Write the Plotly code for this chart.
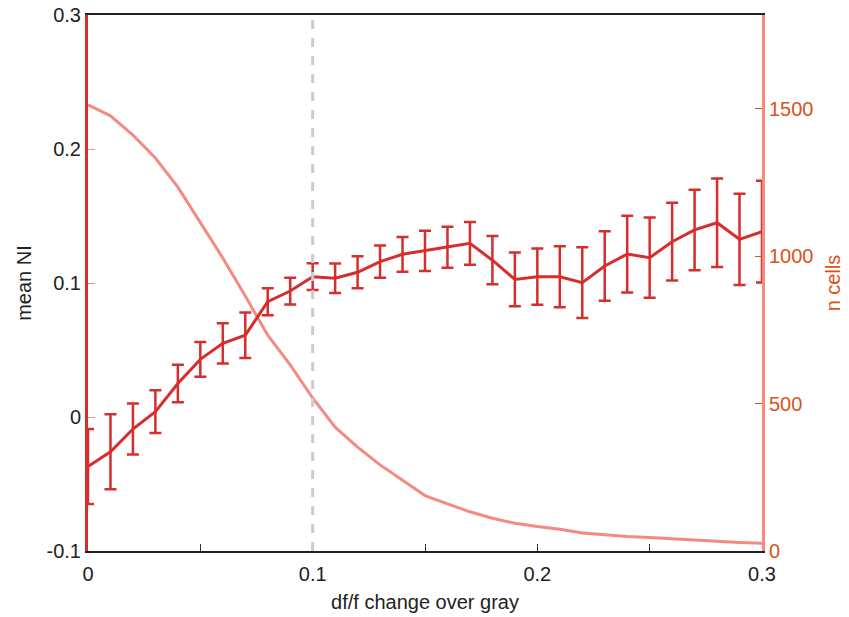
import plotly.graph_objects as go

x_vals = [round(i * 0.01, 2) for i in range(31)]
mean_ni = [-0.037, -0.026, -0.009, 0.004, 0.025, 0.043, 0.055, 0.061, 0.086, 0.094,
           0.1047, 0.1035, 0.108, 0.116, 0.1214, 0.124, 0.1266, 0.1296, 0.117, 0.1027,
           0.1047, 0.1047, 0.1002, 0.1127, 0.1216, 0.1189, 0.1308, 0.1396, 0.145, 0.1326, 0.1383]
err_ni = [0.028, 0.028, 0.019, 0.016, 0.014, 0.013, 0.015, 0.017, 0.010, 0.010,
          0.010, 0.011, 0.012, 0.012, 0.013, 0.015, 0.0153, 0.016, 0.018, 0.020,
          0.021, 0.0228, 0.0264, 0.026, 0.0286, 0.030, 0.029, 0.030, 0.033, 0.034, 0.038]
n_cells = [1513, 1476, 1411, 1333, 1234, 1116, 994, 865, 732, 631,
           519, 420, 352, 292, 240, 188, 160, 133, 111, 94,
           83, 74, 61, 55, 49, 46, 41, 37, 33, 29, 26]

RED = '#d62d2d'
PINK = '#f48a80'
ORANGE = '#d95319'
FONT = 'Liberation Sans, Arial, sans-serif'
FS = 20

fig = go.Figure()
fig.add_trace(go.Scatter(x=x_vals, y=n_cells, mode='lines', yaxis='y',
                         line=dict(color=PINK, width=3), showlegend=False))
fig.add_trace(go.Scatter(x=x_vals, y=mean_ni, mode='lines', yaxis='y2',
                         line=dict(color=RED, width=3),
                         error_y=dict(type='data', array=err_ni, color=RED,
                                      thickness=2.5, width=6),
                         showlegend=False))

fig.add_shape(type='line', x0=0.1, x1=0.1, y0=0, y1=1, xref='x', yref='paper',
              line=dict(color='#cccccc', width=3, dash='dash'), layer='above')

fig.update_layout(
    width=849, height=617,
    margin=dict(l=88, r=87, t=15, b=66),
    plot_bgcolor='white', paper_bgcolor='white',
    font=dict(family=FONT, size=FS, color='#222222'),
    xaxis=dict(range=[0, 0.3], tickvals=[0, 0.05, 0.1, 0.15, 0.2, 0.25, 0.3],
               ticktext=['0', '', '0.1', '', '0.2', '', '0.3'],
               ticks='inside', ticklen=7, tickcolor='#333333',
               ticklabelstandoff=4, automargin=False,
               showline=True, linecolor='#222222', linewidth=1.5, mirror=True,
               showgrid=False, zeroline=False,
               title=dict(text='df/f change over gray', standoff=11,
                          font=dict(size=FS, color='#222222'))),
    yaxis=dict(range=[0, 1818], side='right', tickvals=[0, 500, 1000, 1500],
               ticks='inside', ticklen=7, tickcolor=ORANGE, automargin=False,
               tickfont=dict(color=ORANGE, size=FS),
               showline=True, linecolor=PINK, linewidth=3,
               showgrid=False, zeroline=False,
               title=dict(text='n cells', font=dict(color=ORANGE, size=FS), standoff=14)),
    yaxis2=dict(range=[-0.1, 0.3], side='left', overlaying='y',
                tickvals=[-0.1, 0, 0.1, 0.2, 0.3],
                ticktext=['-0.1', '0', '0.1', '0.2', '0.3'],
                ticks='inside', ticklen=7, tickcolor=PINK, automargin=False,
                tickfont=dict(color='#222222', size=FS),
                showline=True, linecolor=RED, linewidth=3,
                showgrid=False, zeroline=False,
                title=dict(text='mean NI', font=dict(color='#222222', size=FS), standoff=10)),
)

fig.write_html('out.html')
